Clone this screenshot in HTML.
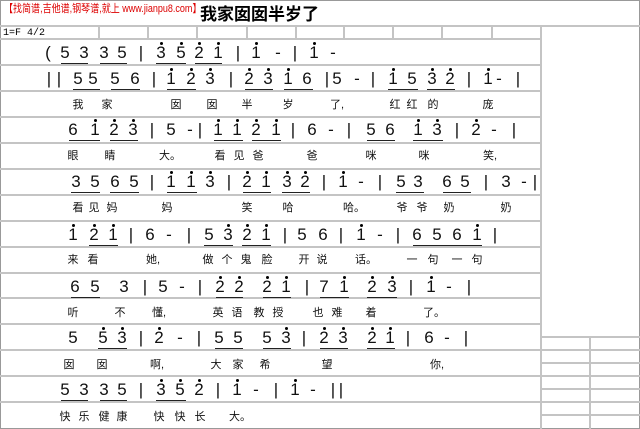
<!DOCTYPE html>
<html><head><meta charset="utf-8"><style>
body{margin:0;width:640px;height:429px;position:relative;background:#fff;overflow:hidden;font-family:"Liberation Sans","Noto Sans CJK SC",sans-serif}
.a{position:absolute}
.hl{position:absolute;height:2px;background:#c4c4c4}
.vl{position:absolute;width:2px;background:#c4c4c4}
.r{position:absolute;left:0;height:0;width:541px}
.r i{position:absolute;top:-10px;width:14px;margin-left:-7px;text-align:center;font:normal 17px/20px "Liberation Sans",sans-serif;color:#111}
.r i.h::before{content:"";position:absolute;left:6px;top:-1px;width:3px;height:3px;background:#000;border-radius:50%}
.r u{position:absolute;top:10px;height:1px;background:#222}
.r s{position:absolute;top:-8px;width:16px;margin-left:-8px;text-align:center;text-decoration:none;font:11px/16px "Liberation Sans","Noto Sans CJK SC",sans-serif;color:#111}
</style></head><body>
<div class="a" style="left:0;top:0;width:638px;height:427px;border:1px solid #999"></div>
<div class="a" style="left:4px;top:3px;font:11px/13px 'Liberation Sans','Noto Sans CJK SC',sans-serif;color:#d00;white-space:nowrap;transform:scaleX(0.82);transform-origin:0 0">【找简谱,吉他谱,钢琴谱,就上 www.jianpu8.com】</div>
<div class="a" style="left:200px;top:4px;font:bold 17px/22px 'Liberation Sans','Noto Sans CJK SC',sans-serif;color:#000">我家囡囡半岁了</div>
<div class="a" style="left:3px;top:28px;font:10px/12px 'Liberation Mono',monospace">1=F 4/2</div>
<div class="hl" style="left:0;top:25px;width:640px"></div>
<div class="hl" style="left:0;top:38px;width:541px"></div>
<div class="hl" style="left:0;top:64px;width:541px"></div>
<div class="hl" style="left:0;top:90px;width:541px"></div>
<div class="hl" style="left:0;top:116px;width:541px"></div>
<div class="hl" style="left:0;top:142px;width:541px"></div>
<div class="hl" style="left:0;top:168px;width:541px"></div>
<div class="hl" style="left:0;top:194px;width:541px"></div>
<div class="hl" style="left:0;top:220px;width:541px"></div>
<div class="hl" style="left:0;top:246px;width:541px"></div>
<div class="hl" style="left:0;top:272px;width:541px"></div>
<div class="hl" style="left:0;top:297px;width:541px"></div>
<div class="hl" style="left:0;top:323px;width:541px"></div>
<div class="hl" style="left:0;top:349px;width:541px"></div>
<div class="hl" style="left:0;top:375px;width:541px"></div>
<div class="hl" style="left:0;top:401px;width:541px"></div>
<div class="vl" style="left:540px;top:25px;height:404px"></div>
<div class="vl" style="left:98px;top:25px;height:14px"></div>
<div class="vl" style="left:147px;top:25px;height:14px"></div>
<div class="vl" style="left:196px;top:25px;height:14px"></div>
<div class="vl" style="left:246px;top:25px;height:14px"></div>
<div class="vl" style="left:295px;top:25px;height:14px"></div>
<div class="vl" style="left:343px;top:25px;height:14px"></div>
<div class="vl" style="left:392px;top:25px;height:14px"></div>
<div class="vl" style="left:441px;top:25px;height:14px"></div>
<div class="vl" style="left:491px;top:25px;height:14px"></div>
<div class="hl" style="left:541px;top:336px;width:99px"></div>
<div class="hl" style="left:541px;top:349px;width:99px"></div>
<div class="hl" style="left:541px;top:362px;width:99px"></div>
<div class="hl" style="left:541px;top:375px;width:99px"></div>
<div class="hl" style="left:541px;top:388px;width:99px"></div>
<div class="hl" style="left:541px;top:401px;width:99px"></div>
<div class="hl" style="left:541px;top:414px;width:99px"></div>
<div class="vl" style="left:589px;top:336px;height:93px"></div>

<div class="r" style="top:53px">
<i style="left:48px">(</i><i style="left:65px">5</i><i style="left:84px">3</i><i style="left:104px">3</i><i style="left:122px">5</i><u style="left:61px;width:27px"></u><u style="left:100px;width:27px"></u>
<i style="left:141px">|</i><i class="h" style="left:161px">3</i><i class="h" style="left:181px">5</i><i class="h" style="left:199px">2</i><i class="h" style="left:218px">1</i><u style="left:156px;width:30px"></u><u style="left:195px;width:27px"></u>
<i style="left:238px">|</i><i class="h" style="left:256px">1</i><i style="left:278px">-</i><i style="left:295px">|</i><i class="h" style="left:314px">1</i><i style="left:333px">-</i>
</div>
<div class="r" style="top:79px">
<i style="left:49px">|</i><i style="left:59px">|</i><i style="left:78px">5</i><i style="left:93px">5</i><i style="left:115px">5</i><i style="left:135px">6</i><u style="left:73px;width:27px"></u><u style="left:111px;width:29px"></u>
<i style="left:154px">|</i><i class="h" style="left:171px">1</i><i class="h" style="left:191px">2</i><i class="h" style="left:210px">3</i><u style="left:167px;width:29px"></u>
<i style="left:231px">|</i><i class="h" style="left:249px">2</i><i class="h" style="left:268px">3</i><i class="h" style="left:288px">1</i><i style="left:307px">6</i><u style="left:245px;width:28px"></u><u style="left:284px;width:29px"></u>
<i style="left:327px">|</i><i style="left:337px">5</i><i style="left:357px">-</i><i style="left:373px">|</i><i class="h" style="left:393px">1</i><i style="left:412px">5</i><i class="h" style="left:432px">3</i><i class="h" style="left:450px">2</i><u style="left:388px;width:30px"></u><u style="left:427px;width:28px"></u>
<i style="left:469px">|</i><i class="h" style="left:488px">1</i><i style="left:499px">-</i><i style="left:518px">|</i>
</div>
<div class="r" style="top:105px"><s style="left:78px">我</s><s style="left:107px">家</s><s style="left:176px">囡</s><s style="left:212px">囡</s><s style="left:247px">半</s><s style="left:288px">岁</s><s style="left:337px">了,</s><s style="left:395px">红</s><s style="left:412px">红</s><s style="left:433px">的</s><s style="left:488px">庞</s></div>

<div class="r" style="top:130px">
<i style="left:73px">6</i><i class="h" style="left:95px">1</i><i class="h" style="left:114px">2</i><i class="h" style="left:133px">3</i><u style="left:69px;width:31px"></u><u style="left:110px;width:28px"></u>
<i style="left:152px">|</i><i style="left:171px">5</i><i style="left:190px">-</i><i style="left:200px">|</i>
<i class="h" style="left:218px">1</i><i class="h" style="left:237px">1</i><i class="h" style="left:256px">2</i><i class="h" style="left:276px">1</i><u style="left:214px;width:29px"></u><u style="left:252px;width:29px"></u>
<i style="left:293px">|</i><i style="left:312px">6</i><i style="left:331px">-</i><i style="left:349px">|</i><i style="left:371px">5</i><i style="left:390px">6</i><u style="left:367px;width:28px"></u><i class="h" style="left:418px">1</i><i class="h" style="left:437px">3</i><u style="left:413px;width:30px"></u>
<i style="left:457px">|</i><i class="h" style="left:476px">2</i><i style="left:494px">-</i><i style="left:514px">|</i>
</div>
<div class="r" style="top:156px"><s style="left:73px">眼</s><s style="left:110px">睛</s><s style="left:167px">大。</s><s style="left:220px">看</s><s style="left:239px">见</s><s style="left:258px">爸</s><s style="left:312px">爸</s><s style="left:371px">咪</s><s style="left:424px">咪</s><s style="left:490px">笑,</s></div>

<div class="r" style="top:182px">
<i style="left:76px">3</i><i style="left:95px">5</i><i style="left:115px">6</i><i style="left:134px">5</i><u style="left:71px;width:29px"></u><u style="left:110px;width:29px"></u>
<i style="left:152px">|</i><i class="h" style="left:171px">1</i><i class="h" style="left:191px">1</i><i class="h" style="left:210px">3</i><u style="left:167px;width:30px"></u>
<i style="left:229px">|</i><i class="h" style="left:247px">2</i><i class="h" style="left:266px">1</i><i class="h" style="left:287px">3</i><i class="h" style="left:305px">2</i><u style="left:243px;width:28px"></u><u style="left:282px;width:28px"></u>
<i style="left:324px">|</i><i class="h" style="left:343px">1</i><i style="left:361px">-</i><i style="left:380px">|</i><i style="left:401px">5</i><i style="left:418px">3</i><u style="left:396px;width:28px"></u><i style="left:447px">6</i><i style="left:465px">5</i><u style="left:443px;width:28px"></u>
<i style="left:486px">|</i><i style="left:506px">3</i><i style="left:524px">-</i><i style="left:535px">|</i>
</div>
<div class="r" style="top:208px"><s style="left:78px">看</s><s style="left:94px">见</s><s style="left:112px">妈</s><s style="left:167px">妈</s><s style="left:247px">笑</s><s style="left:288px">哈</s><s style="left:351px">哈。</s><s style="left:402px">爷</s><s style="left:422px">爷</s><s style="left:449px">奶</s><s style="left:506px">奶</s></div>

<div class="r" style="top:235px">
<i class="h" style="left:73px">1</i><i class="h" style="left:94px">2</i><i class="h" style="left:113px">1</i><u style="left:89px;width:29px"></u>
<i style="left:131px">|</i><i style="left:150px">6</i><i style="left:169px">-</i><i style="left:189px">|</i>
<i style="left:209px">5</i><i class="h" style="left:228px">3</i><i class="h" style="left:247px">2</i><i class="h" style="left:266px">1</i><u style="left:204px;width:29px"></u><u style="left:242px;width:29px"></u>
<i style="left:285px">|</i><i style="left:302px">5</i><i style="left:323px">6</i><i style="left:341px">|</i><i class="h" style="left:361px">1</i><i style="left:380px">-</i><i style="left:398px">|</i>
<i style="left:417px">6</i><i style="left:437px">5</i><i style="left:457px">6</i><i class="h" style="left:477px">1</i><u style="left:413px;width:69px"></u><i style="left:495px">|</i>
</div>
<div class="r" style="top:260px"><s style="left:73px">来</s><s style="left:93px">看</s><s style="left:153px">她,</s><s style="left:208px">做</s><s style="left:227px">个</s><s style="left:246px">鬼</s><s style="left:267px">脸</s><s style="left:304px">开</s><s style="left:322px">说</s><s style="left:363px">话。</s><s style="left:412px">一</s><s style="left:433px">句</s><s style="left:457px">一</s><s style="left:477px">句</s></div>

<div class="r" style="top:287px">
<i style="left:75px">6</i><i style="left:95px">5</i><u style="left:71px;width:29px"></u><i style="left:124px">3</i>
<i style="left:145px">|</i><i style="left:163px">5</i><i style="left:182px">-</i><i style="left:200px">|</i>
<i class="h" style="left:220px">2</i><i class="h" style="left:239px">2</i><u style="left:216px;width:27px"></u><i class="h" style="left:267px">2</i><i class="h" style="left:286px">1</i><u style="left:263px;width:28px"></u>
<i style="left:307px">|</i><i style="left:324px">7</i><i class="h" style="left:344px">1</i><u style="left:320px;width:29px"></u><i class="h" style="left:372px">2</i><i class="h" style="left:392px">3</i><u style="left:367px;width:30px"></u>
<i style="left:411px">|</i><i class="h" style="left:431px">1</i><i style="left:449px">-</i><i style="left:469px">|</i>
</div>
<div class="r" style="top:313px"><s style="left:73px">听</s><s style="left:120px">不</s><s style="left:159px">懂,</s><s style="left:218px">英</s><s style="left:237px">语</s><s style="left:259px">教</s><s style="left:278px">授</s><s style="left:318px">也</s><s style="left:337px">难</s><s style="left:371px">着</s><s style="left:431px">了。</s></div>

<div class="r" style="top:338px">
<i style="left:73px">5</i><i class="h" style="left:103px">5</i><i class="h" style="left:122px">3</i><u style="left:98px;width:29px"></u>
<i style="left:141px">|</i><i class="h" style="left:159px">2</i><i style="left:180px">-</i><i style="left:199px">|</i>
<i style="left:219px">5</i><i style="left:238px">5</i><u style="left:215px;width:28px"></u><i style="left:267px">5</i><i class="h" style="left:286px">3</i><u style="left:263px;width:28px"></u>
<i style="left:304px">|</i><i class="h" style="left:324px">2</i><i class="h" style="left:343px">3</i><u style="left:320px;width:28px"></u><i class="h" style="left:372px">2</i><i class="h" style="left:390px">1</i><u style="left:367px;width:28px"></u>
<i style="left:408px">|</i><i style="left:429px">6</i><i style="left:447px">-</i><i style="left:466px">|</i>
</div>
<div class="r" style="top:365px"><s style="left:69px">囡</s><s style="left:102px">囡</s><s style="left:157px">啊,</s><s style="left:216px">大</s><s style="left:238px">家</s><s style="left:265px">希</s><s style="left:327px">望</s><s style="left:437px">你,</s></div>

<div class="r" style="top:390px">
<i style="left:65px">5</i><i style="left:84px">3</i><i style="left:104px">3</i><i style="left:122px">5</i><u style="left:61px;width:27px"></u><u style="left:100px;width:27px"></u>
<i style="left:141px">|</i><i class="h" style="left:161px">3</i><i class="h" style="left:180px">5</i><i class="h" style="left:199px">2</i><u style="left:156px;width:30px"></u>
<i style="left:218px">|</i><i class="h" style="left:237px">1</i><i style="left:256px">-</i><i style="left:276px">|</i><i class="h" style="left:295px">1</i><i style="left:313px">-</i><i style="left:333px">|</i><i style="left:341px">|</i>
</div>
<div class="r" style="top:417px"><s style="left:65px">快</s><s style="left:84px">乐</s><s style="left:104px">健</s><s style="left:122px">康</s><s style="left:159px">快</s><s style="left:180px">快</s><s style="left:200px">长</s><s style="left:237px">大。</s></div>
</body></html>
